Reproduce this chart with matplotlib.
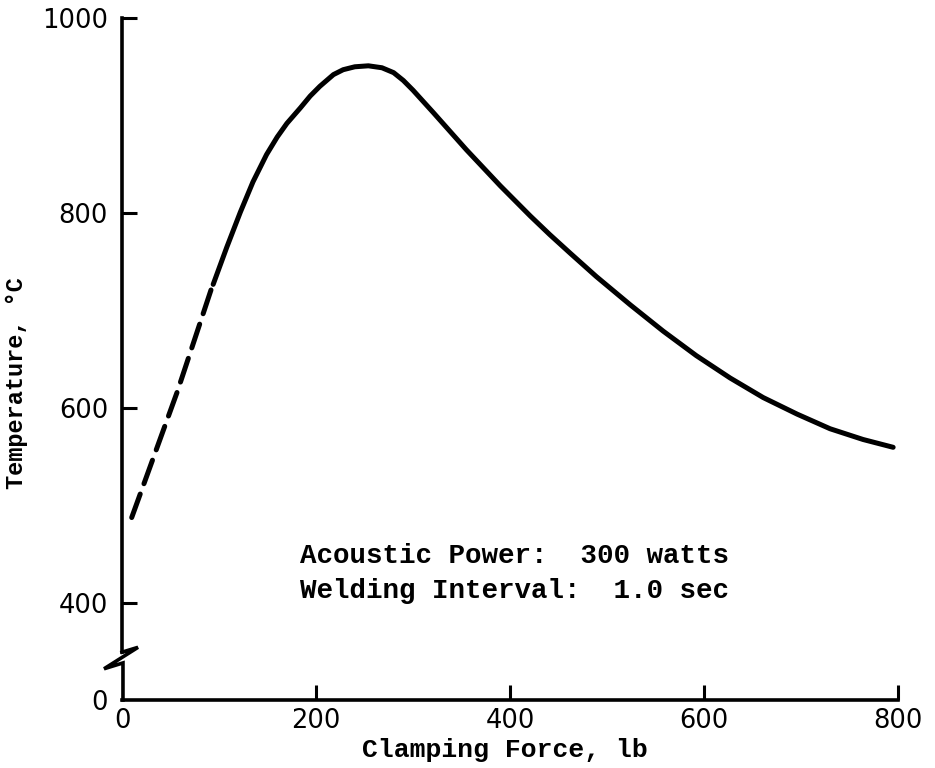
import matplotlib
matplotlib.use("Agg")
import matplotlib.pyplot as plt

# values
force_dashed = [10, 57, 93]
temp_dashed = [488, 617, 725]

force_solid = [94, 108, 122, 135, 149, 160, 170, 184, 194, 204, 218, 228,
               240, 254, 268, 280, 290, 300, 321, 355, 390, 421, 441, 462,
               489, 524, 558, 592, 627, 661, 696, 730, 764, 795]
temp_solid = [727, 765, 801, 832, 860, 878, 892, 908, 920, 930, 942, 947,
              950, 951, 949, 944, 936, 926, 903, 865, 828, 797, 778, 759,
              735, 706, 679, 654, 631, 611, 594, 579, 568, 560]

x_ticks = [0, 200, 400, 600, 800]
y_ticks = [400, 600, 800, 1000]
y_floor = 301          # where the broken axis shows "0"

note_lines = ["Acoustic Power:  300 watts", "Welding Interval:  1.0 sec"]

mono = "Liberation Mono"
sans = "DejaVu Sans"

fig = plt.figure(figsize=(9.35, 7.68), dpi=100)
ax = fig.add_axes([122 / 935, 1 - 700 / 768, 776 / 935, 682 / 768])

ax.plot(force_dashed, temp_dashed, color="black", lw=3.6,
        dashes=(5.0, 2.2), dash_capstyle="round")
ax.plot(force_solid, temp_solid, color="black", lw=3.6,
        solid_capstyle="round", solid_joinstyle="round")

ax.set_xlim(0, 800)
ax.set_ylim(y_floor, 1000)

for side in ("top", "right"):
    ax.spines[side].set_visible(False)
ax.spines["bottom"].set_linewidth(2.6)
ax.spines["left"].set_linewidth(2.6)
ax.spines["left"].set_bounds(350, 1000)

# axis break zig-zag and the short stub down to zero
brk_x = [0, 16.5, -18.5, 1, 1]
brk_y = [350, 355, 333, 339, y_floor]
ax.plot(brk_x, brk_y, color="black", lw=2.6, clip_on=False,
        solid_joinstyle="miter")

ax.set_xticks(x_ticks)
ax.set_xticklabels([str(v) for v in x_ticks])
ax.set_yticks([y_floor] + y_ticks)
ax.set_yticklabels(["0"] + [str(v) for v in y_ticks])
ax.yaxis.get_major_ticks()[0].tick1line.set_visible(False)
ax.xaxis.get_major_ticks()[0].tick1line.set_visible(False)

ax.tick_params(axis="both", direction="in", length=11, width=2.2,
               labelsize=18.5, colors="black")
ax.tick_params(axis="y", pad=10)
ax.tick_params(axis="x", pad=6)
for lbl in ax.get_xticklabels() + ax.get_yticklabels():
    lbl.set_family(sans)

fig.text(505 / 935, 1 - 750 / 768, "Clamping Force, lb", family=mono,
         weight="bold", fontsize=19, ha="center", va="center")
ax.set_ylabel("Temperature, °C", family=mono, weight="bold", fontsize=17)
ax.yaxis.set_label_coords(-0.121, 0.465)

ax.text(183.5, 449, note_lines[0], family=mono, weight="bold",
        fontsize=19.8, va="center", ha="left")
ax.text(183.5, 413, note_lines[1], family=mono, weight="bold",
        fontsize=19.8, va="center", ha="left")

fig.savefig("out.png", dpi=100, facecolor="white")
